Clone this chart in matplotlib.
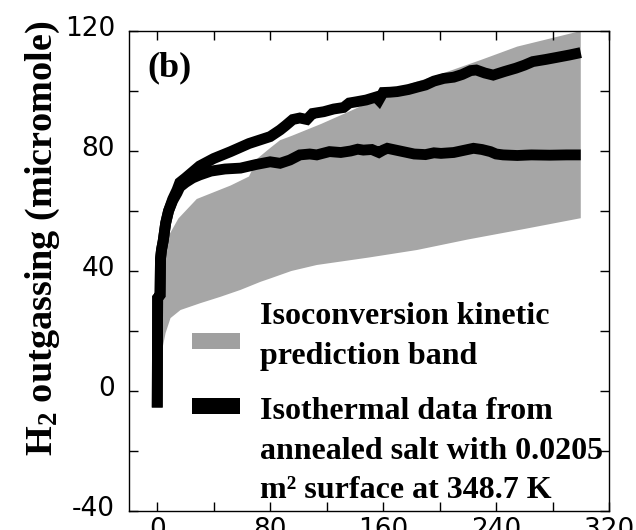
import matplotlib
matplotlib.use("Agg")
import matplotlib.pyplot as plt
from matplotlib.patches import Rectangle
from matplotlib.ticker import MultipleLocator
from matplotlib.transforms import ScaledTranslation

plt.rcParams['mathtext.fontset'] = 'custom'
plt.rcParams['mathtext.rm'] = 'Liberation Serif:bold'
plt.rcParams['mathtext.bf'] = 'Liberation Serif:bold'
plt.rcParams['mathtext.it'] = 'Liberation Serif:bold:italic'

# Isothermal run 1 (upper trace)
time_run1 = [0, 0.3, 2, 2.3, 3, 4.2, 6, 8, 11, 14, 16, 20, 25, 30, 40, 52, 65, 80, 87,
             91, 96, 101, 106, 110, 114, 118, 125, 132, 136, 141, 148, 155, 157, 160,
             165, 170, 178, 185, 190, 196, 203, 210, 216, 222, 226, 232, 238, 246,
             254, 260, 266, 275, 283, 292, 300]
h2_run1 = [-5.5, 31, 32, 44, 47, 50, 56, 60, 64, 67, 69.5, 71, 73, 75, 77.5, 79.8, 82.5,
           84.8, 87, 88.5, 90.5, 91, 90.5, 92.5, 92.8, 93.1, 94, 94.5, 96, 96.4, 97,
           98, 97, 99.5, 99.6, 99.8, 100.5, 101.4, 102, 103.3, 104.2, 104.6, 105.5,
           106.8, 107, 106, 105.3, 106.5, 107.6, 108.6, 109.8, 110.5, 111.2, 112, 112.8]

# Isothermal run 2 (lower trace)
time_run2 = [0, 0.3, 2, 2.3, 3, 4.2, 6, 8, 11, 14, 16, 20, 25, 30, 38, 48, 59, 70, 80,
             87, 94, 101, 108, 113, 122, 130, 137, 142, 146, 152, 157, 160, 163, 170,
             176, 182, 190, 196, 201, 210, 218, 224, 230, 236, 240, 245, 255, 265,
             278, 290, 300]
h2_run2 = [-5.5, 31, 32, 44, 47, 50, 56, 60, 63.5, 66, 68, 69.5, 71, 72, 73.3, 74, 74.3,
           75.5, 76.4, 75.9, 77, 78.7, 79, 78.7, 79.8, 79.5, 80, 80.6, 80.3, 80.5, 79.5,
           80.3, 80.9, 80.2, 79.6, 79, 78.8, 79.4, 79.2, 79.5, 80.3, 80.9, 80.5, 79.8,
           79, 78.7, 78.5, 78.7, 78.6, 78.7, 78.7]

# Isoconversion kinetic prediction band (upper and lower edges)
band_time_upper = [2, 3, 6, 15, 28, 52, 65, 71, 80, 87, 95, 116, 140, 170, 203, 229, 255, 300]
band_upper = [35, 40, 50, 57.5, 64, 68.5, 71.5, 77.5, 81, 83.6, 85, 89, 94, 101, 106, 110.3,
              114.8, 120]
band_time_lower = [2, 2.5, 3.5, 5.9, 9.4, 16.5, 30.7, 44.8, 59, 73.2, 80, 95, 113, 150,
                   184, 220, 260, 300]
band_lower = [10, 10, 13.7, 19.3, 24.3, 27, 29.3, 31.4, 33.7, 36.4, 37.5, 40, 42, 44.5,
              47, 50.5, 54, 57.6]

x_ticks = [0, 80, 160, 240, 320]
x_tick_labels = ['0', '80', '160', '240', '320']
y_ticks = [-40, 0, 40, 80, 120]
y_tick_labels = ['-40', '0', '40', '80', '120']

legend_labels = ['Isoconversion kinetic\nprediction band',
                 'Isothermal data from\nannealed salt with 0.0205\nm\u00b2 surface at 348.7 K']

band_color = '#a6a6a6'
serif = 'Liberation Serif'

fig = plt.figure(figsize=(6.36, 5.30), dpi=100)
ax = fig.add_axes([129 / 636, 19 / 530, 480 / 636, 480 / 530])

# prediction band as a closed polygon: upper edge forward, lower edge back
poly_x = list(band_time_upper) + list(band_time_lower[::-1])
poly_y = list(band_upper) + list(band_lower[::-1])
ax.fill(poly_x, poly_y, color=band_color, lw=0, zorder=1)

for tt, vv in ((time_run1, h2_run1), (time_run2, h2_run2)):
    ax.plot(tt, vv, color='black', lw=7.8, solid_joinstyle='miter',
            solid_capstyle='butt', zorder=3)

ax.set_xlim(-20, 320)
ax.set_ylim(-40, 120)
ax.set_xticks(x_ticks)
ax.set_xticklabels(x_tick_labels)
ax.set_yticks(y_ticks)
ax.set_yticklabels(y_tick_labels)
ax.xaxis.set_minor_locator(MultipleLocator(40))
ax.yaxis.set_minor_locator(MultipleLocator(20))

for side in ax.spines.values():
    side.set_linewidth(1.0)

ax.tick_params(which='both', direction='in', top=True, right=True, length=6.5,
               width=1.0, labelsize=19)
ax.tick_params(axis='y', which='major', pad=10)
ax.tick_params(axis='x', which='major', pad=4.5)

# y tick labels sit slightly above their ticks
shift = ScaledTranslation(0, 5 / 100, fig.dpi_scale_trans)
for tick in ax.yaxis.get_major_ticks():
    tick.label1.set_transform(tick.label1.get_transform() + shift)

fig.text(43 / 636, 1 - 238.5 / 530, r'$\mathrm{H_2}$ outgassing (micromole)',
         rotation=90, ha='center', va='center', fontsize=27.5, fontweight='bold',
         family=serif)

ax.text(0.0375, 0.906, '(b)', transform=ax.transAxes, fontsize=26,
        fontweight='bold', family=serif, va='baseline', ha='left')

# legend keys and labels (text anchored on the baseline of each label's last line)
key_colors = ['#a0a0a0', 'black']
key_bottoms = [0.3365, 0.2021]
last_baselines = [0.30625, 0.0265]
for col, kb, tb, lab in zip(key_colors, key_bottoms, last_baselines, legend_labels):
    ax.add_patch(Rectangle((0.13125, kb), 0.1, 0.0333, transform=ax.transAxes,
                           facecolor=col, edgecolor='none', zorder=4))
    ax.text(0.2729, tb, lab, transform=ax.transAxes, fontsize=23,
            fontweight='bold', family=serif, va='baseline', ha='left',
            linespacing=1.48, zorder=5)

fig.savefig('out.png', dpi=100)
